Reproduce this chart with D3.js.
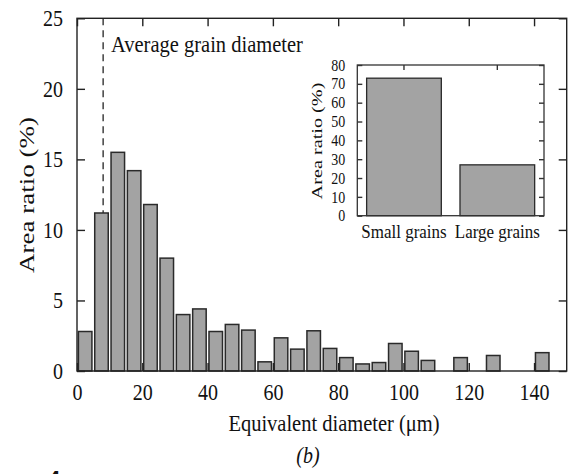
<!DOCTYPE html>
<html><head><meta charset="utf-8">
<script src="https://cdn.jsdelivr.net/npm/d3@7"></script>
<style>body{margin:0;background:#fff}svg{display:block}text{font-family:"Liberation Serif","Times New Roman",serif;fill:#111}</style>
</head><body><svg id="c" width="573" height="474"></svg>
<script>
// histogram bins (lower edge, µm) and area ratio (%)
const binStarts = [0,5,10,15,20,25,30,35,40,45,50,55,60,65,70,75,80,85,90,95,100,105,110,115,120,125,130,135,140];
const areaRatio = [2.8,11.2,15.5,14.2,11.8,8.0,4.0,4.4,2.8,3.3,2.9,0.65,2.35,1.55,2.85,1.6,0.95,0.5,0.6,1.95,1.4,0.75,0,0.95,0,1.1,0,0,1.3];
const binWidth = 5;
const xTicks = [0,20,40,60,80,100,120,140];
const yTicks = [0,5,10,15,20,25];
const avgDiameter = 8;
// inset
const insetCats = ["Small grains","Large grains"];
const insetVals = [73,27];
const insetTicks = [0,10,20,30,40,50,60,70,80];

const FONT = '"Liberation Serif","Times New Roman",serif';
const SY = 1.15;
const svg = d3.select("#c");
const M = {l:77, r:566.7, t:18.3, b:371};
const x = d3.scaleLinear().domain([0,150]).range([M.l,M.r]);
const y = d3.scaleLinear().domain([0,25]).range([M.b,M.t]);

function stext(g, txt, tx, ty, size, opts={}){
  const t = g.append("text").attr("transform",`translate(${tx},${ty}) rotate(${opts.rot||0}) scale(${opts.sx||1},${opts.sy||1})`)
    .attr("text-anchor",opts.anchor||"middle").style("font-size",size+"px").style("font-family",FONT).text(txt);
  if(opts.italic) t.style("font-style","italic");
  return t;
}
function styleAxis(g, size, stroke){
  g.select(".domain").remove();
  g.selectAll("text").style("font-size",size+"px").style("font-family",FONT).attr("fill","#111")
    .attr("transform",`scale(1,${SY})`);
  g.selectAll("line").attr("stroke",stroke).attr("stroke-width",1.4);
}

// dashed avg line
svg.append("line").attr("x1",x(avgDiameter)).attr("x2",x(avgDiameter)).attr("y1",y(25)).attr("y2",y(0))
  .attr("stroke","#111").attr("stroke-width",1.2).attr("stroke-dasharray","7,5");

// bars
svg.append("g").selectAll("rect").data(binStarts.map((b,i)=>({b,v:areaRatio[i]})).filter(d=>d.v>0)).join("rect")
  .attr("x",d=>x(d.b)+1.4).attr("width",d=>x(d.b+binWidth)-x(d.b)-2.8)
  .attr("y",d=>y(d.v)).attr("height",d=>y(0)-y(d.v))
  .attr("fill","#a3a3a3").attr("stroke","#2a2a2a").attr("stroke-width",1.5);

// frame
svg.append("rect").attr("x",M.l).attr("y",M.t).attr("width",M.r-M.l).attr("height",M.b-M.t)
  .attr("fill","none").attr("stroke","#222").attr("stroke-width",1.4);

// axes with inward ticks
const tl = 8;
svg.append("g").attr("transform",`translate(0,${M.b})`).call(d3.axisBottom(x).tickValues(xTicks).tickSizeInner(-tl).tickSizeOuter(0).tickPadding(11))
  .call(g=>styleAxis(g,20,"#222"));
svg.append("g").attr("transform",`translate(0,${M.t})`).call(d3.axisTop(x).tickValues(xTicks).tickSizeInner(-tl).tickSizeOuter(0).tickFormat(""))
  .call(g=>styleAxis(g,20,"#222"));
svg.append("g").attr("transform",`translate(${M.l},0)`).call(d3.axisLeft(y).tickValues(yTicks).tickSizeInner(-tl).tickSizeOuter(0).tickPadding(14))
  .call(g=>styleAxis(g,20,"#222"));
svg.append("g").attr("transform",`translate(${M.r},0)`).call(d3.axisRight(y).tickValues(yTicks).tickSizeInner(-tl).tickSizeOuter(0).tickFormat(""))
  .call(g=>styleAxis(g,20,"#222"));

// titles
stext(svg,"Average grain diameter",111,52,20.5,{anchor:"start",sy:SY});
stext(svg,"Equivalent diameter (μm)",334,431,20.5,{sy:SY});
stext(svg,"Area ratio (%)",34,195,20,{rot:-90,sx:1.35});
stext(svg,"(b)",308,463,20,{italic:true,sy:SY});

// inset
const I = {l:357.3, r:544, t:65, b:215.7};
const ix = d3.scaleBand().domain(insetCats).range([I.l,I.r]).paddingInner(0.2).paddingOuter(0.1);
const iy = d3.scaleLinear().domain([0,80]).range([I.b,I.t]);
const ig = svg.append("g");
ig.append("rect").attr("x",I.l).attr("y",I.t).attr("width",I.r-I.l).attr("height",I.b-I.t).attr("fill","#fff");
ig.selectAll(".ib").data(insetCats.map((c,i)=>({c,v:insetVals[i]}))).join("rect")
  .attr("x",d=>ix(d.c)).attr("width",ix.bandwidth()).attr("y",d=>iy(d.v)).attr("height",d=>I.b-iy(d.v))
  .attr("fill","#a3a3a3").attr("stroke","#2a2a2a").attr("stroke-width",1.3);
ig.append("rect").attr("x",I.l).attr("y",I.t).attr("width",I.r-I.l).attr("height",I.b-I.t)
  .attr("fill","none").attr("stroke","#333").attr("stroke-width",1.3);
const itl=5;
ig.append("g").attr("transform",`translate(${I.l},0)`).call(d3.axisLeft(iy).tickValues(insetTicks).tickSizeInner(-itl).tickSizeOuter(0).tickPadding(12))
  .call(g=>styleAxis(g,14,"#333"));
ig.append("g").attr("transform",`translate(${I.r},0)`).call(d3.axisRight(iy).tickValues(insetTicks).tickSizeInner(-itl).tickSizeOuter(0).tickFormat(""))
  .call(g=>styleAxis(g,14,"#333"));
ig.append("g").attr("transform",`translate(0,${I.t})`).call(d3.axisTop(ix).tickSizeInner(-itl).tickSizeOuter(0).tickFormat(""))
  .call(g=>styleAxis(g,14,"#333"));
ig.append("g").attr("transform",`translate(0,${I.b})`).call(d3.axisBottom(ix).tickSize(0).tickPadding(7))
  .call(g=>styleAxis(g,17,"#333"));
stext(ig,"Area ratio (%)",322,141,15,{rot:-90,sx:1.35});

// fragment of next panel label (cropped in the source image)
svg.append("text").attr("x",48).attr("y",486).style("font-size","22px").style("font-weight","bold").attr("fill","#aaa").style("font-family","Liberation Sans, sans-serif").text("4");
</script></body></html>
